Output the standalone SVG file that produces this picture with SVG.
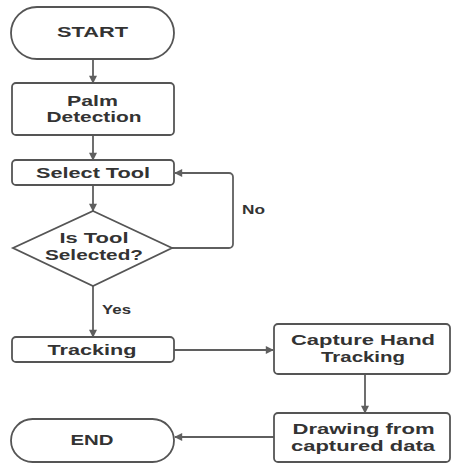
<svg xmlns="http://www.w3.org/2000/svg" width="452" height="464" viewBox="0 0 452 464">
<style>
.n{fill:#fff;stroke:#555;stroke-width:1.8}
.t{font-family:"Liberation Sans",Arial,sans-serif;font-weight:bold;font-size:15px;fill:#333;text-anchor:middle}
.l{font-family:"Liberation Sans",Arial,sans-serif;font-weight:bold;font-size:13px;fill:#333}
.c{fill:none;stroke:#5f5f5f;stroke-width:1.8}
</style>
<defs>
<marker id="a" viewBox="0 0 10 10" refX="9" refY="5" markerWidth="9" markerHeight="8" orient="auto" markerUnits="userSpaceOnUse">
<path d="M0,0L10,5L0,10z" fill="#5f5f5f"/>
</marker>
</defs>
<rect width="452" height="464" fill="#fff"/>
<g id="connectors">
<line class="c" x1="93" y1="59" x2="93" y2="83" marker-end="url(#a)"/>
<line class="c" x1="93" y1="135" x2="93" y2="160" marker-end="url(#a)"/>
<line class="c" x1="93" y1="185" x2="93" y2="211" marker-end="url(#a)"/>
<path class="c" d="M172,248H229a4,4 0 0 0 4,-4V177a4,4 0 0 0 -4,-4H175" marker-end="url(#a)"/>
<line class="c" x1="93" y1="286" x2="93" y2="337" marker-end="url(#a)"/>
<line class="c" x1="174" y1="350" x2="273" y2="350" marker-end="url(#a)"/>
<line class="c" x1="365" y1="374" x2="365" y2="413" marker-end="url(#a)"/>
<line class="c" x1="274" y1="437" x2="175" y2="437" marker-end="url(#a)"/>
<text class="l" x="242" y="214" textLength="23" lengthAdjust="spacingAndGlyphs">No</text>
<text class="l" x="102" y="314" textLength="29" lengthAdjust="spacingAndGlyphs">Yes</text>
</g>
<g id="start">
<rect class="n" x="11" y="7" width="163" height="52" rx="26"/>
<text class="t" x="92.5" y="37" textLength="71" lengthAdjust="spacingAndGlyphs">START</text>
</g>
<g id="palm">
<rect class="n" x="12" y="83" width="162" height="52" rx="4"/>
<text class="t" x="92.5" y="105.5" textLength="51" lengthAdjust="spacingAndGlyphs">Palm</text>
<text class="t" x="94" y="121.5" textLength="95" lengthAdjust="spacingAndGlyphs">Detection</text>
</g>
<g id="select">
<rect class="n" x="12" y="160" width="162" height="25" rx="4"/>
<text class="t" x="93" y="178" textLength="114" lengthAdjust="spacingAndGlyphs">Select Tool</text>
</g>
<g id="decision">
<polygon class="n" points="93,211 172,248 93,286 13,248"/>
<text class="t" x="94" y="242.5" textLength="69" lengthAdjust="spacingAndGlyphs">Is Tool</text>
<text class="t" x="94" y="260" textLength="98" lengthAdjust="spacingAndGlyphs">Selected?</text>
</g>
<g id="tracking">
<rect class="n" x="12" y="337" width="162" height="25" rx="4"/>
<text class="t" x="92" y="355" textLength="89" lengthAdjust="spacingAndGlyphs">Tracking</text>
</g>
<g id="capture">
<rect class="n" x="274" y="324" width="176" height="50" rx="4"/>
<text class="t" x="363" y="345" textLength="144" lengthAdjust="spacingAndGlyphs">Capture Hand</text>
<text class="t" x="363" y="362" textLength="84" lengthAdjust="spacingAndGlyphs">Tracking</text>
</g>
<g id="drawing">
<rect class="n" x="274" y="413" width="176" height="49" rx="4"/>
<text class="t" x="363.5" y="434" textLength="142" lengthAdjust="spacingAndGlyphs">Drawing from</text>
<text class="t" x="363" y="451" textLength="144" lengthAdjust="spacingAndGlyphs">captured data</text>
</g>
<g id="end">
<rect class="n" x="11" y="419" width="163" height="43" rx="21.5"/>
<text class="t" x="92" y="445" textLength="43" lengthAdjust="spacingAndGlyphs">END</text>
</g>
</svg>
